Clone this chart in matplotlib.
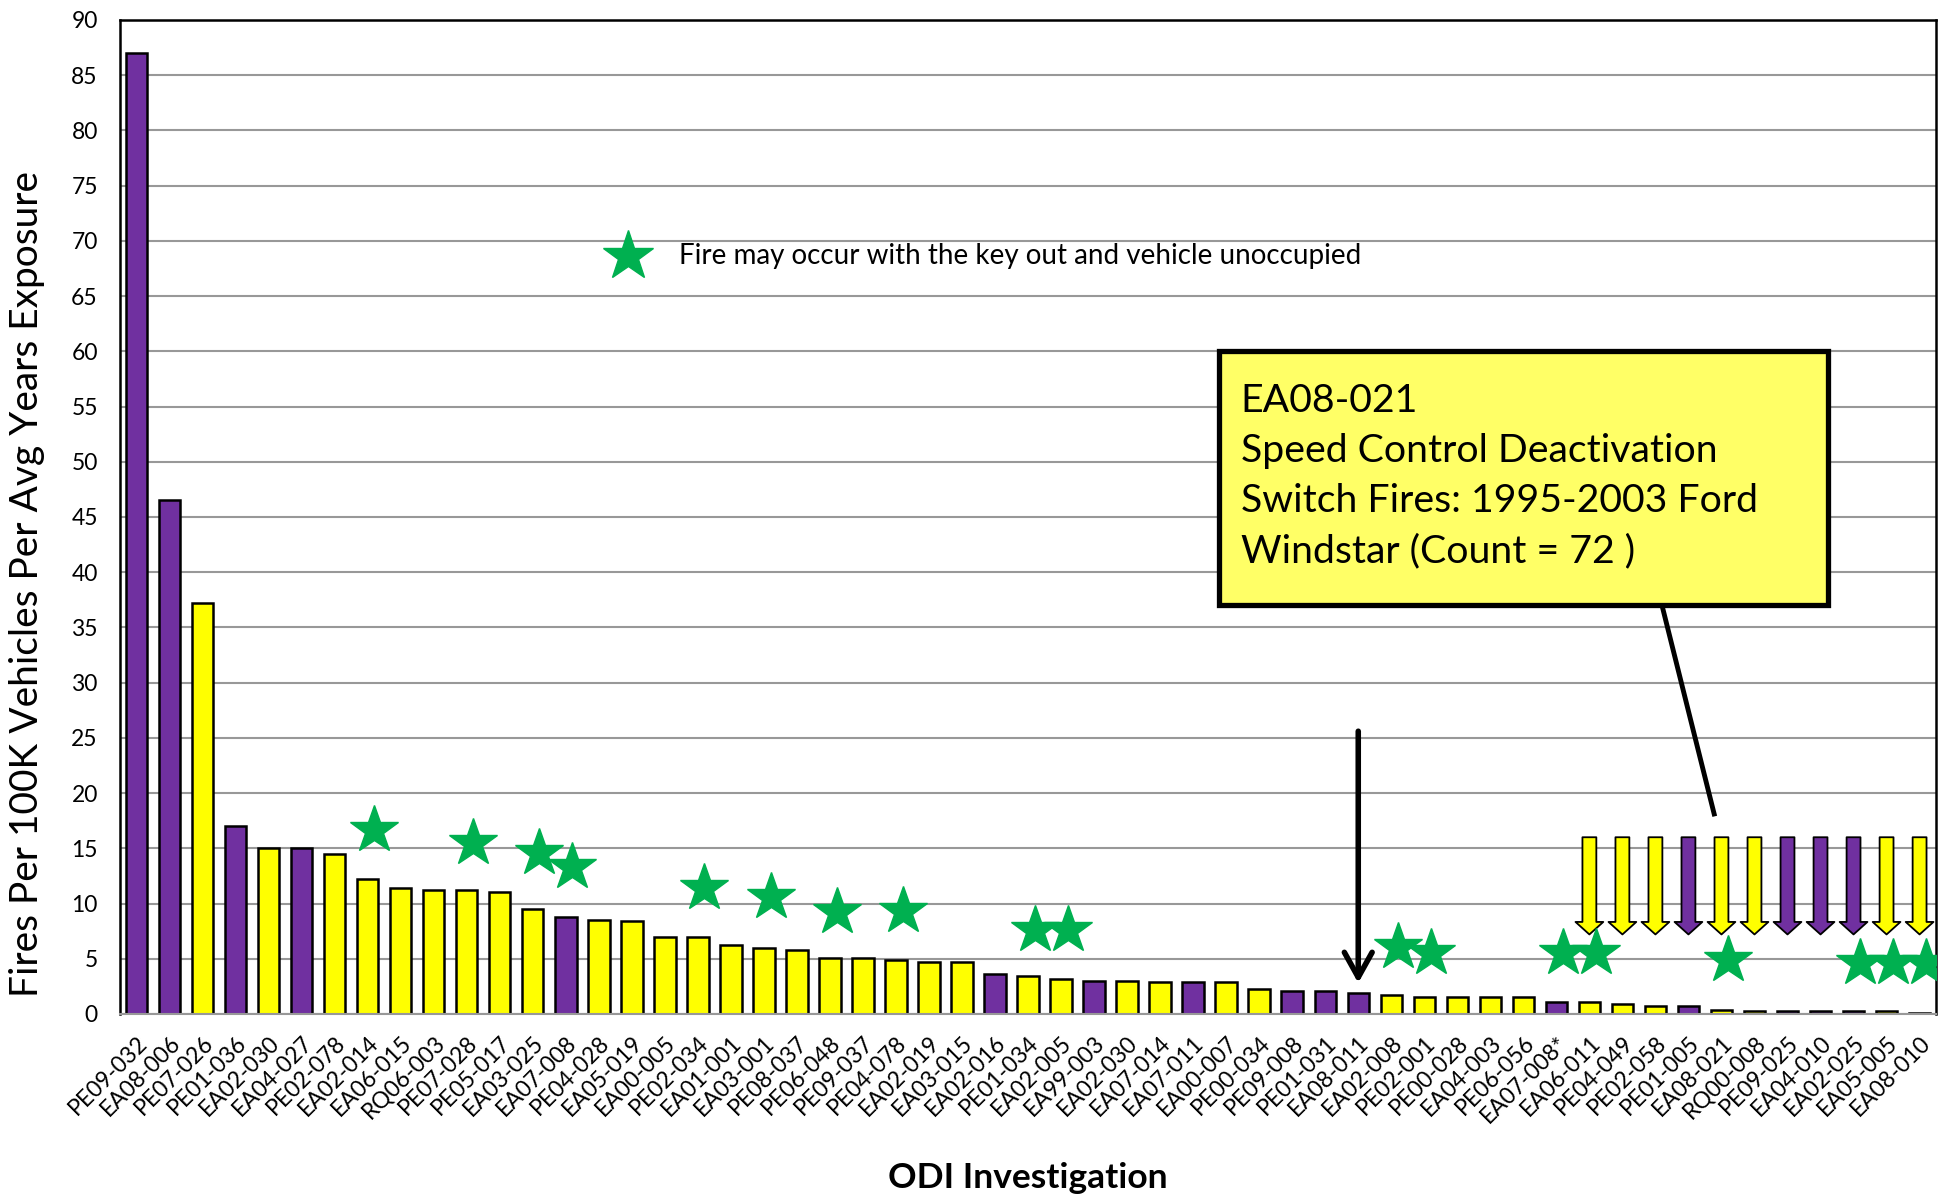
import numpy as np
import matplotlib.pyplot as plt
from matplotlib.patches import Rectangle

plt.rcParams['font.family'] = ['Lato', 'DejaVu Sans']

# ODI investigations, sorted by fire rate
investigations = [
    "PE09-032", "EA08-006", "PE07-026", "PE01-036", "EA02-030", "EA04-027",
    "PE02-078", "EA02-014", "EA06-015", "RQ06-003", "PE07-028", "PE05-017",
    "EA03-025", "EA07-008", "PE04-028", "EA05-019", "EA00-005", "PE02-034",
    "EA01-001", "EA03-001", "PE08-037", "PE06-048", "PE09-037", "PE04-078",
    "EA02-019", "EA03-015", "EA02-016", "PE01-034", "EA02-005", "EA99-003",
    "EA02-030", "EA07-014", "EA07-011", "EA00-007", "PE00-034", "PE09-008",
    "PE01-031", "EA08-011", "EA02-008", "PE02-001", "PE00-028", "EA04-003",
    "PE06-056", "EA07-008*", "EA06-011", "PE04-049", "PE02-058", "PE01-005",
    "EA08-021", "RQ00-008", "PE09-025", "EA04-010", "EA02-025", "EA05-005",
    "EA08-010",
]
fire_rates = [
    87.0, 46.5, 37.2, 17.0, 15.0, 15.0,
    14.5, 12.2, 11.4, 11.2, 11.2, 11.0,
    9.5, 8.8, 8.5, 8.4, 7.0, 7.0,
    6.2, 6.0, 5.8, 5.1, 5.1, 4.9,
    4.7, 4.7, 3.6, 3.4, 3.2, 3.0,
    3.0, 2.9, 2.9, 2.9, 2.3, 2.1,
    2.1, 1.9, 1.7, 1.5, 1.5, 1.5,
    1.5, 1.1, 1.1, 0.9, 0.7, 0.7,
    0.4, 0.3, 0.3, 0.3, 0.3, 0.3,
    0.1,
]
# P = purple, Y = yellow
bar_groups = list("PPYPYPYYYYYYYPYYYYYYYYYYYYPYYPYYPYYPPPYYYYYPYYYPYYPPPYY")

# "key out / unoccupied" stars (bar index, height)
star_bars = [7, 10, 12, 13, 17, 19, 21, 23, 27, 28, 38, 39, 43, 44, 48, 52, 53, 54]
star_heights = [16.7, 15.5, 14.6, 13.3, 11.4, 10.6, 9.2, 9.3, 7.6, 7.6,
                6.1, 5.5, 5.5, 5.5, 4.9, 4.6, 4.6, 4.6]

# down arrows over the smallest bars
arrow_bars = list(range(44, 55))
arrow_top = 16.0
arrow_tip = 7.2

highlight_bar = 37
highlight_from, highlight_to = 25.6, 2.8

palette = {"P": "#7030A0", "Y": "#FFFF00"}
green = "#00B050"

fig = plt.figure(figsize=(19.39, 11.95), dpi=100)
ax = fig.add_axes([0.0619, 0.1515, 0.9366, 0.8318])

x = np.arange(len(investigations))
colors = [palette[g] for g in bar_groups]
ax.bar(x, fire_rates, width=0.65, color=colors, edgecolor="black",
       linewidth=1.8, zorder=2)

ax.set_xlim(-0.5, len(x) - 0.5)
ax.set_ylim(0, 90)
ax.set_yticks(np.arange(0, 91, 5))
ax.yaxis.grid(True, color="#989898", lw=1.5)
ax.set_axisbelow(True)
for side in ["left", "top", "right"]:
    ax.spines[side].set_color("black")
    ax.spines[side].set_linewidth(1.8)
ax.spines["bottom"].set_color("#989898")
ax.spines["bottom"].set_linewidth(1.5)

ax.tick_params(axis="y", length=0, pad=16, labelsize=16.5)
ax.tick_params(axis="x", length=0, pad=13)
ax.set_xticks(x, investigations, rotation=45, ha="right",
              rotation_mode="anchor", fontsize=16.5)

# stars
ax.plot(np.array(star_bars) + 0.2, star_heights, ls="none", marker="*",
        ms=36, color=green, mec=green, zorder=4)

# block arrows
for i in arrow_bars:
    ax.annotate("", xy=(i, arrow_tip), xytext=(i, arrow_top),
                arrowprops=dict(arrowstyle="simple,head_length=0.9,head_width=2.0,tail_width=1.0",
                                fc=palette[bar_groups[i]], ec="black", lw=1.3,
                                shrinkA=0, shrinkB=0, mutation_scale=10),
                zorder=3)

# black arrow pointing at EA08-011
ax.annotate("", xy=(highlight_bar, highlight_to), xytext=(highlight_bar, highlight_from),
            arrowprops=dict(arrowstyle="->,head_length=1.8,head_width=1.0",
                            color="black", lw=4, shrinkA=0, shrinkB=0,
                            mutation_scale=10),
            zorder=5)

# legend note
ax.plot([0.2797], [0.7626], marker="*", ms=38, color=green, mec=green,
        transform=ax.transAxes, zorder=5)
ax.text(0.3078, 0.7626, "Fire may occur with the key out and vehicle unoccupied",
        transform=ax.transAxes, va="center", ha="left", fontsize=20)

# callout box
ax.plot([0.8486, 0.8778], [0.4145, 0.2012], transform=ax.transAxes,
        color="black", lw=3.5, zorder=5)
ax.add_patch(Rectangle((0.605, 0.411), 0.3355, 0.256, transform=ax.transAxes,
                       fc="#FFFF66", ec="black", lw=3.8, zorder=6))
ax.text(0.617, 0.541,
        "EA08-021\nSpeed Control Deactivation\nSwitch Fires: 1995-2003 Ford\nWindstar (Count = 72 )",
        transform=ax.transAxes, ha="left", va="center", fontsize=28.3,
        linespacing=1.48, zorder=7)

fig.text(0.0139, 0.511, "Fires Per 100K Vehicles Per Avg Years Exposure",
         rotation=90, ha="center", va="center", fontsize=28)
fig.text(0.530, 0.0142, "ODI Investigation", ha="center", va="center",
         fontsize=25.5, fontweight="bold")

fig.savefig("out.png", dpi=100)
